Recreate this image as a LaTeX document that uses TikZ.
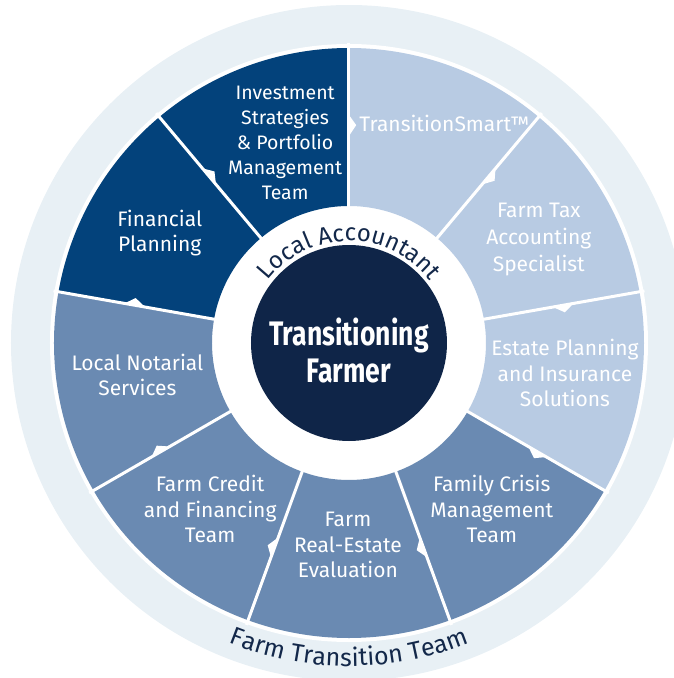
\documentclass[tikz,border=0pt]{standalone}
\usepackage{fontspec}
\setmainfont{Fira Sans}
\newfontfamily\condfont{Fira Sans}[FakeStretch=0.78]
\usepackage{tikz}
\usetikzlibrary{decorations.text}
\definecolor{ring}{RGB}{232,240,245}
\definecolor{pale}{RGB}{184,203,227}
\definecolor{mid}{RGB}{106,138,178}
\definecolor{navy}{RGB}{3,66,123}
\definecolor{core}{RGB}{15,37,72}
\definecolor{ink}{RGB}{19,40,74}

\begin{document}
\begin{tikzpicture}

		\def\rcore{98pt}
		\def\rin{137pt}
		\def\rout{295pt}

		\tikzset{divider/.style={draw=white,line width=3pt}}
		\tikzset{notch/.style={fill=white}}
		\tikzset{segtext/.style={text=white,align=center,inner sep=0pt,font=\fontsize{21}{25.5}\selectfont}}
		\tikzset{arctext/.style={decorate,decoration={text along path,text align=center,text color=ink}}}

		\useasboundingbox (-349pt,-335pt) rectangle (324pt,343pt);

		\fill[ring] (0,0) circle (338pt);
		\fill[white] (0,0) circle (299pt);

		% Segment: start angle/colour, each one 40 degrees wide
		\foreach \a/\c in {90/pale,50/pale,10/pale,-30/mid,-70/mid,-110/mid,-150/mid,-190/navy,-230/navy}{
			\fill[\c] (\a:\rin) -- (\a:\rout) arc[start angle=\a, end angle=\a-40, radius=\rout]
				-- ({\a-40}:\rin) arc[start angle=\a-40, end angle=\a, radius=\rin] -- cycle;
		}

		\foreach \a in {90,50,...,-230}{
			\draw[divider] (\a:134pt) -- (\a:300pt);
			\fill[notch] (\a:207pt) -- ({\a-1.9}:218pt) -- (\a:228pt) -- cycle;
		}

		\fill[core] (0,0) circle (\rcore);
		\node[text=white,align=center,font=\condfont\bfseries\fontsize{34}{37}\selectfont] (farmer) at (0,-7pt) {Transitioning\\Farmer};

		\path[arctext,decoration={text={|\fontsize{24}{24}\selectfont|Local Accountant}}]
			(165:102pt) arc[start angle=165, end angle=15, radius=102pt];
		\path[arctext,decoration={text={|\fontsize{25}{25}\selectfont|Farm Transition Team}}]
			(200:323pt) arc[start angle=200, end angle=340, radius=323pt];

		\node[segtext,font=\fontsize{19.5}{25}\selectfont] (invest) at (107.7:210pt) {Investment\\Strategies\\\& Portfolio\\Management\\Team};
		\node[segtext] (smart) at (66.5:239pt) {TransitionSmart™};
		\node[segtext,font=\fontsize{21}{27}\selectfont] (tax) at (28.5:216pt) {Farm Tax\\Accounting\\Specialist};
		\node[segtext] (estate) at (-7.9:218pt) {Estate Planning\\and Insurance\\Solutions};
		\node[segtext] (crisis) at (-49.3:219pt) {Family Crisis\\Management\\Team};
		\node[segtext] (realestate) at (-90.3:202pt) {Farm\\Real-Estate\\Evaluation};
		\node[segtext] (credit) at (-129.9:216.5pt) {Farm Credit\\and Financing\\Team};
		\node[segtext] (notary) at (188.6:214pt) {Local Notarial\\Services};
		\node[segtext] (financial) at (149.8:219pt) {Financial\\Planning};

	\end{tikzpicture}
\end{document}
